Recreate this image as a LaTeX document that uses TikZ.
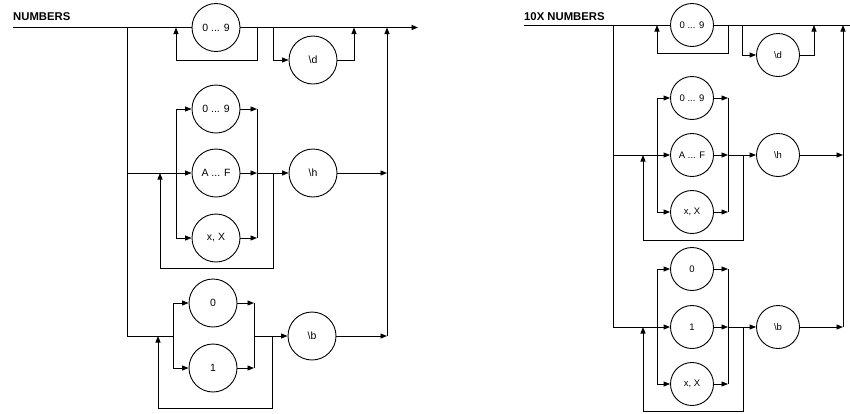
\documentclass[tikz,border=0pt]{standalone}
\usepackage{fontspec}
\setmainfont{Liberation Sans}
\usetikzlibrary{arrows.meta}
\begin{document}
\begin{tikzpicture}[x=1pt,y=-1pt,
  line/.style={draw, line width=0.9pt},
  arr/.style={line, -{Triangle[length=6.5pt,width=5pt]}},
  bigc/.style={circle, draw, line width=0.9pt, minimum size=48pt, inner sep=0pt, font=\fontsize{10.5}{12}\selectfont},
  smallc/.style={circle, draw, line width=0.9pt, minimum size=43pt, inner sep=0pt, font=\fontsize{9.5}{11}\selectfont},
  title/.style={anchor=west, inner sep=0pt, font=\bfseries\fontsize{11.3}{13}\selectfont}]
\useasboundingbox (0,0) rectangle (850,413);

% ================= LEFT: NUMBERS =================
\node[title] (t1) at (13,17) {NUMBERS};
\coordinate (s1) at (13,27.5);
\coordinate (e1) at (418,27.5);
\node[bigc] (a9) at (216,27.5) {0 ... 9};
\draw[line] (s1) -- (a9.west);
\draw[arr] (a9.east) -- (e1);
% one-or-more loop
\coordinate (L1a) at (257,27.5);
\coordinate (L1b) at (176,60);
\coordinate (L1c) at (176,27.5);
\draw[arr] (L1a) |- (L1b) -- (L1c);
% \d option
\coordinate (D1a) at (273,27.5);
\node[bigc] (d1) at (313,60) {\textbackslash d};
\coordinate (D1b) at (354,27.5);
\draw[arr] (D1a) |- (d1.west);
\draw[arr] (d1.east) -| (D1b);
% main branch down
\coordinate (B1) at (127,27.5);
\coordinate (B1bot) at (127,336);
\draw[line] (B1) -- (B1bot);
% hex group
\node[bigc] (h9) at (216,109) {0 ... 9};
\node[bigc] (hA) at (216,173) {A ... F};
\node[bigc] (hX) at (216,238) {x, X};
\coordinate (H1in) at (127,173);
\draw[arr] (H1in) -- (hA.west);
\coordinate (HL) at (176,173);
\draw[arr] (HL) |- (h9.west);
\draw[arr] (HL) |- (hX.west);
\coordinate (HRt) at (257,109);
\coordinate (HR) at (257,173);
\coordinate (HRb) at (257,238);
\draw[arr] (h9.east) -- (HRt);
\draw[arr] (hA.east) -- (HR);
\draw[arr] (hX.east) -- (HRb);
\draw[line] (HRt) -- (HRb);
\node[bigc] (hh) at (313,173) {\textbackslash h};
\draw[arr] (HR) -- (hh.west);
\coordinate (HP1) at (273,173);
\coordinate (HP2) at (160,268);
\coordinate (HP3) at (160,173);
\draw[arr] (HP1) |- (HP2) -- (HP3);
\coordinate (R1h) at (387,173);
\draw[arr] (hh.east) -- (R1h);
% binary group
\node[bigc] (b0) at (213,303) {0};
\node[bigc] (b1) at (213,368) {1};
\coordinate (BL) at (173,336);
\draw[line] (B1bot) -- (BL);
\draw[arr] (BL) |- (b0.west);
\draw[arr] (BL) |- (b1.west);
\coordinate (BRt) at (254,303);
\coordinate (BR) at (254,336);
\coordinate (BRb) at (254,368);
\draw[arr] (b0.east) -- (BRt);
\draw[arr] (b1.east) -- (BRb);
\draw[line] (BRt) -- (BRb);
\node[bigc] (bb) at (312,336) {\textbackslash b};
\draw[arr] (BR) -- (bb.west);
\coordinate (BP1) at (272,336);
\coordinate (BP2) at (158,408);
\coordinate (BP3) at (158,336);
\draw[arr] (BP1) |- (BP2) -- (BP3);
\coordinate (R1b) at (387,336);
\draw[arr] (bb.east) -- (R1b);
\coordinate (R1t) at (387,27.5);
\draw[arr] (R1b) -- (R1t);

% ================= RIGHT: 10X NUMBERS =================
\node[title] (t2) at (524,17) {10X NUMBERS};
\coordinate (s2) at (524,25);
\coordinate (e2) at (850,25);
\node[smallc] (c9) at (692,25) {0 ... 9};
\draw[line] (s2) -- (c9.west);
\draw[line] (c9.east) -- (e2);
\coordinate (L2a) at (728,25);
\coordinate (L2b) at (657,53);
\coordinate (L2c) at (657,25);
\draw[arr] (L2a) |- (L2b) -- (L2c);
\coordinate (D2a) at (742,25);
\node[smallc] (d2) at (778,55) {\textbackslash d};
\coordinate (D2b) at (814,25);
\draw[arr] (D2a) |- (d2.west);
\draw[arr] (d2.east) -| (D2b);
\coordinate (B2) at (613,25);
\coordinate (B2bot) at (613,327);
\draw[line] (B2) -- (B2bot);
% hex group
\node[smallc] (k9) at (692,98) {0 ... 9};
\node[smallc] (kA) at (692,155) {A ... F};
\node[smallc] (kX) at (692,212) {x, X};
\coordinate (K2in) at (613,155);
\draw[arr] (K2in) -- (kA.west);
\coordinate (KL) at (657,155);
\draw[arr] (KL) |- (k9.west);
\draw[arr] (KL) |- (kX.west);
\coordinate (KRt) at (728,98);
\coordinate (KR) at (728,155);
\coordinate (KRb) at (728,212);
\draw[arr] (k9.east) -- (KRt);
\draw[arr] (kA.east) -- (KR);
\draw[arr] (kX.east) -- (KRb);
\draw[line] (KRt) -- (KRb);
\node[smallc] (kh) at (778,155) {\textbackslash h};
\draw[arr] (KR) -- (kh.west);
\coordinate (KP1) at (743,155);
\coordinate (KP2) at (643,240);
\coordinate (KP3) at (643,155);
\draw[arr] (KP1) |- (KP2) -- (KP3);
\coordinate (R2h) at (843,155);
\draw[arr] (kh.east) -- (R2h);
% binary-like group
\node[smallc] (m0) at (692,269) {0};
\node[smallc] (m1) at (692,327) {1};
\node[smallc] (mX) at (692,384) {x, X};
\coordinate (M2in) at (613,327);
\draw[arr] (M2in) -- (m1.west);
\coordinate (ML) at (657,327);
\draw[arr] (ML) |- (m0.west);
\draw[arr] (ML) |- (mX.west);
\coordinate (MRt) at (728,269);
\coordinate (MR) at (728,327);
\coordinate (MRb) at (728,384);
\draw[arr] (m0.east) -- (MRt);
\draw[arr] (m1.east) -- (MR);
\draw[arr] (mX.east) -- (MRb);
\draw[line] (MRt) -- (MRb);
\node[smallc] (mb) at (778,327) {\textbackslash b};
\draw[arr] (MR) -- (mb.west);
\coordinate (MP1) at (743,327);
\coordinate (MP2) at (643,411);
\coordinate (MP3) at (643,327);
\draw[arr] (MP1) |- (MP2) -- (MP3);
\coordinate (R2b) at (843,327);
\draw[arr] (mb.east) -- (R2b);
\coordinate (R2t) at (843,25);
\draw[arr] (R2b) -- (R2t);
\end{tikzpicture}
\end{document}
